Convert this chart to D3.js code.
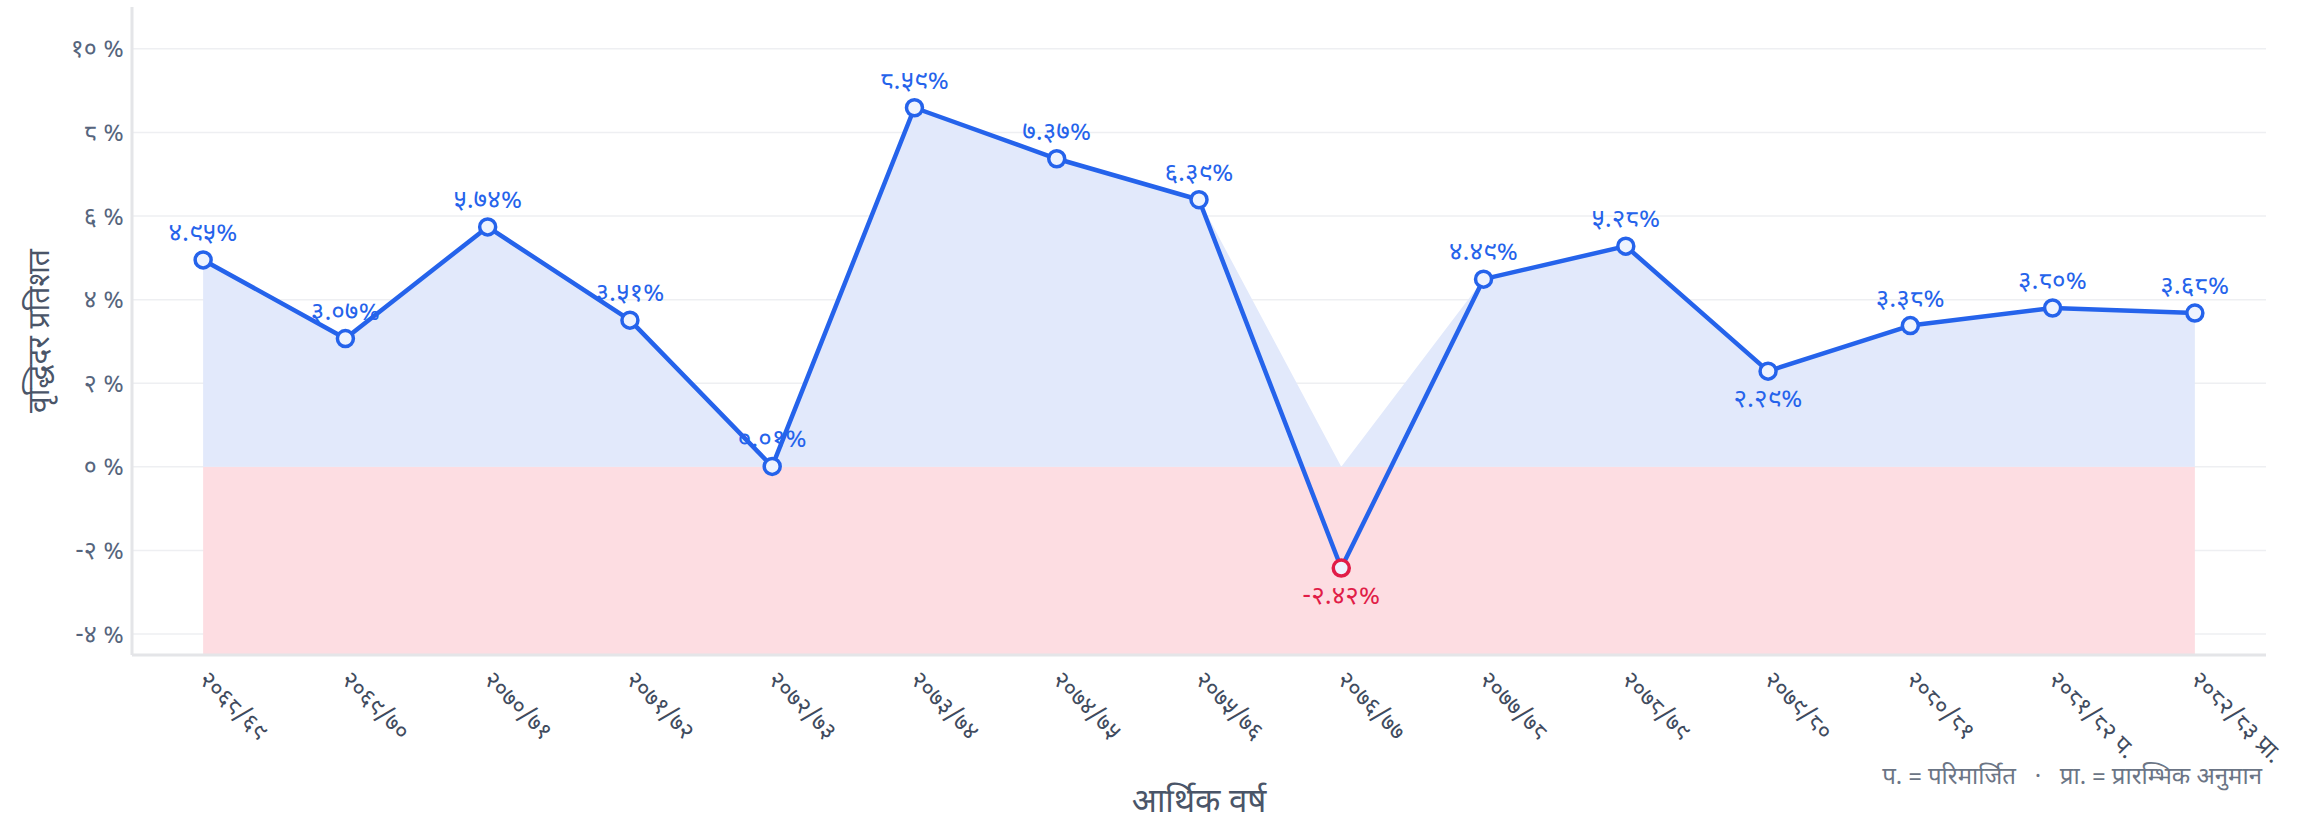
<!DOCTYPE html>
<html lang="ne">
  <head>
    <meta charset="UTF-8" />
    <title>आर्थिक वृद्धिदर</title>
    <script src="https://d3js.org/d3.v7.min.js"></script>
    <style>
      html, body { margin: 0; padding: 0; background: #fff; }
      body { font-family: "Noto Sans Devanagari", "Noto Sans", sans-serif; }
      .grid line { stroke: #eeeff2; stroke-width: 1.5px; }
      .tick text { fill: #56657d; }
    </style>
  </head>
  <body>
    <svg id="chart" width="2300" height="825"></svg>
    <script>
      // आर्थिक वर्ष
      const years = [
        "२०६८/६९", "२०६९/७०", "२०७०/७१", "२०७१/७२", "२०७२/७३",
        "२०७३/७४", "२०७४/७५", "२०७५/७६", "२०७६/७७", "२०७७/७८",
        "२०७८/७९", "२०७९/८०", "२०८०/८१", "२०८१/८२ प.", "२०८२/८३ प्रा."
      ];
      // वृद्धिदर (%)
      const growth = [4.95, 3.07, 5.74, 3.51, 0.01, 8.59, 7.37, 6.39, -2.42, 4.49, 5.28, 2.29, 3.38, 3.80, 3.68];
      const yTicks = [-4, -2, 0, 2, 4, 6, 8, 10];
      // लेबल बिन्दुको तल देखाउने वर्ष
      const labelBelow = ["२०७६/७७", "२०७९/८०"];

      const nepDigits = "०१२३४५६७८९";
      const toNep = (s) => String(s).replace(/[0-9]/g, (c) => nepDigits[+c]);

      const data = years.map((yr, i) => ({ year: yr, value: growth[i] }));

      const svg = d3.select("#chart");
      const plotLeft = 132, plotRight = 2266, plotTop = 7, plotBottom = 655;

      const x = d3.scalePoint().domain(years).range([plotLeft, plotRight]).padding(0.5);
      const y = d3.scaleLinear().domain([-4.5, 11]).range([plotBottom, plotTop]);

      // ग्रिड
      svg.append("g").attr("class", "grid")
        .selectAll("line").data(yTicks).join("line")
        .attr("x1", plotLeft).attr("x2", plotRight)
        .attr("y1", (d) => y(d)).attr("y2", (d) => y(d));

      // ऋणात्मक क्षेत्र
      const x0 = x(years[0]), x1 = x(years[years.length - 1]);
      svg.append("rect")
        .attr("x", x0).attr("y", y(0))
        .attr("width", x1 - x0).attr("height", plotBottom - y(0))
        .attr("fill", "#fddde2");

      // धनात्मक क्षेत्र
      const area = d3.area()
        .x((d) => x(d.year))
        .y0(y(0))
        .y1((d) => y(Math.max(0, d.value)));
      svg.append("path").datum(data)
        .attr("d", area)
        .attr("fill", "#e2e9fb");

      // अक्ष रेखा
      svg.append("line").attr("x1", plotLeft).attr("x2", plotLeft).attr("y1", plotTop).attr("y2", plotBottom)
        .attr("stroke", "#e4e5e8").attr("stroke-width", 3);
      svg.append("line").attr("x1", plotLeft).attr("x2", plotRight).attr("y1", plotBottom).attr("y2", plotBottom)
        .attr("stroke", "#e4e5e8").attr("stroke-width", 3);

      // y अक्ष
      const yAxis = d3.axisLeft(y).tickValues(yTicks).tickSize(0).tickPadding(7)
        .tickFormat((d) => toNep(d) + " %");
      svg.append("g").attr("transform", `translate(${plotLeft - 1},0)`).call(yAxis)
        .call((g) => g.select(".domain").remove())
        .selectAll("text").style("font-size", "25px")
        .style("font-family", '"Noto Sans Devanagari", "Noto Sans", sans-serif');

      // x अक्ष
      const xAxis = d3.axisBottom(x).tickSize(0).tickPadding(0);
      svg.append("g").attr("transform", `translate(0,${plotBottom})`).call(xAxis)
        .call((g) => g.select(".domain").remove())
        .selectAll("text")
        .attr("text-anchor", "start")
        .attr("dy", "0")
        .attr("transform", "translate(-6,26) rotate(45)")
        .style("font-size", "24px")
        .style("fill", "#3f4b5e")
        .style("font-family", '"Noto Sans Devanagari", "Noto Sans", sans-serif');

      // रेखा
      const line = d3.line().x((d) => x(d.year)).y((d) => y(d.value));
      svg.append("path").datum(data)
        .attr("d", line)
        .attr("fill", "none")
        .attr("stroke", "#2563eb")
        .attr("stroke-width", 4.5)
        .attr("stroke-linejoin", "round");

      // बिन्दु
      svg.selectAll(".pt").data(data).join("circle")
        .attr("class", "pt")
        .attr("cx", (d) => x(d.year)).attr("cy", (d) => y(d.value))
        .attr("r", 8)
        .attr("fill", "#eef3fe")
        .attr("stroke", (d) => (d.value < 0 ? "#e11d48" : "#2563eb"))
        .attr("stroke-width", 3.5);

      // मान लेबल
      svg.selectAll(".lbl").data(data).join("text")
        .attr("class", "lbl")
        .attr("x", (d) => x(d.year))
        .attr("y", (d) => y(d.value) + (labelBelow.includes(d.year) ? 36 : -19))
        .attr("text-anchor", "middle")
        .style("font-size", "26px")
        .attr("fill", (d) => (d.value < 0 ? "#e11d48" : "#2563eb"))
        .text((d) => toNep(d.value.toFixed(2)) + "%");

      // अक्ष शीर्षक
      svg.append("text")
        .attr("transform", `translate(38,${(plotTop + plotBottom) / 2}) rotate(-90)`)
        .attr("text-anchor", "middle")
        .attr("dy", "0.35em")
        .style("font-size", "30px")
        .attr("fill", "#4a5568")
        .text("वृद्धिदर प्रतिशत");

      svg.append("text")
        .attr("x", (plotLeft + plotRight) / 2).attr("y", 812)
        .attr("text-anchor", "middle")
        .style("font-size", "33px")
        .attr("fill", "#4a5568")
        .text("आर्थिक वर्ष");

      // टिप्पणी
      svg.append("text")
        .attr("x", 2262).attr("y", 784)
        .attr("text-anchor", "end")
        .style("font-size", "24px")
        .attr("fill", "#6b7585")
        .attr("xml:space", "preserve")
        .text("प. = परिमार्जित   ·   प्रा. = प्रारम्भिक अनुमान");
    </script>
  </body>
</html>
